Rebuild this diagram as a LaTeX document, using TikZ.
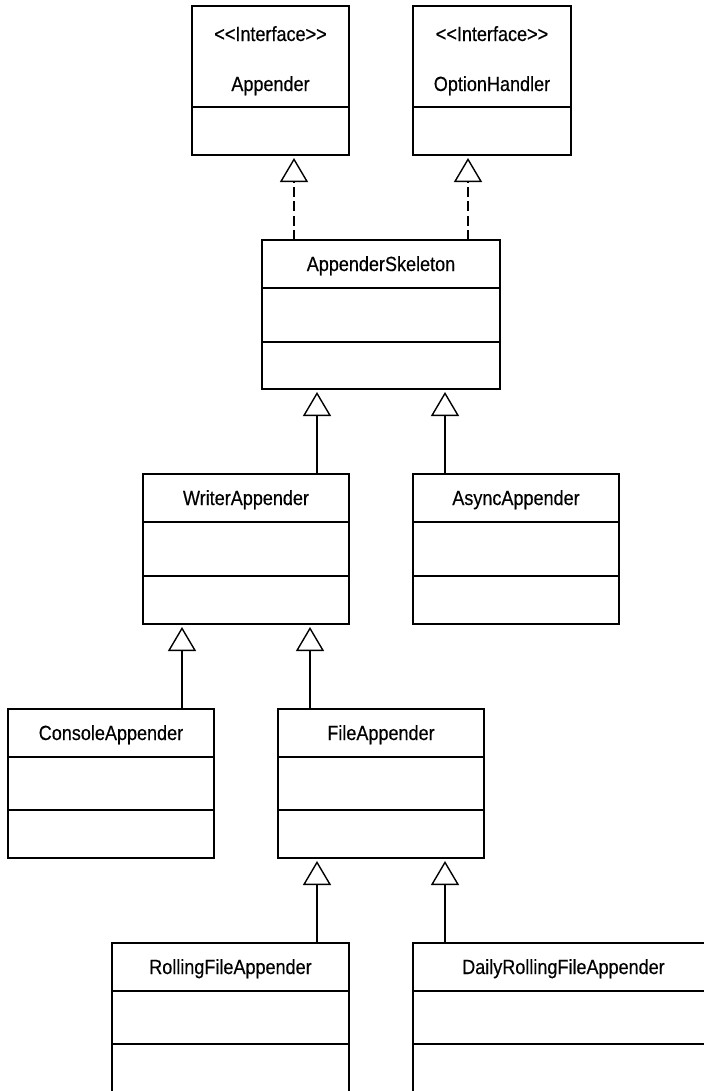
\documentclass[tikz,border=0pt]{standalone}
\usepackage{fontspec}
\newfontfamily\umlfont{Liberation Sans}[FakeStretch=0.88, FakeBold=0.4]
\usetikzlibrary{arrows.meta}

\tikzset{
  classbox/.style={draw, line width=1.8bp, rectangle, inner sep=0pt, outer sep=0pt, anchor=north west},
  divider/.style={line width=1.5bp},
  classname/.style={font=\umlfont\fontsize{20.5bp}{24bp}\selectfont, anchor=base, inner sep=0pt},
  inherits/.style={line width=1.4bp, -{Triangle[open, length=24bp, width=28bp]}, shorten >=3bp},
  realizes/.style={inherits, dash pattern=on 10bp off 4.5bp},
}

% class box: name, top-left x, top-left y, width, height, first divider, second divider
\newcommand\umlclass[7]{%
  \node[classbox, minimum width=#4bp, minimum height=#5bp] (#1) at (#2,#3) {};
  \draw[divider] ([yshift=-#6bp]#1.north west) -- ([yshift=-#6bp]#1.north east);
  \ifx\relax#7\relax\else
  \draw[divider] ([yshift=-#7bp]#1.north west) -- ([yshift=-#7bp]#1.north east);
  \fi
}

\begin{document}
\begin{tikzpicture}[x=1bp, y=-1bp]
\useasboundingbox (0,0) rectangle (704,1091);
\clip (0,0) rectangle (704,1091);

% interfaces
\umlclass{app}{192}{6}{157}{149}{101}{}
\umlclass{opt}{413}{6}{158}{149}{101}{}
\node[classname] (app-st) at ([yshift=-35bp]app.north) {<\kern0pt<Interface>\kern0pt>};
\node[classname] (app-nm) at ([yshift=-85bp]app.north) {Appender};
\node[classname] (opt-st) at ([yshift=-35bp]opt.north) {<\kern0pt<Interface>\kern0pt>};
\node[classname] (opt-nm) at ([yshift=-85bp]opt.north) {OptionHandler};

% classes
\umlclass{skel}{262}{240}{238}{149}{48}{102}
\umlclass{writer}{143}{474}{206}{150}{48}{102}
\umlclass{async}{413}{474}{206}{150}{48}{102}
\umlclass{console}{8}{709}{206}{149}{48}{101}
\umlclass{file}{278}{709}{206}{149}{48}{101}
\umlclass{rolling}{112}{943}{237}{152}{48}{101}
\umlclass{daily}{413}{943}{301}{152}{48}{101}

\node[classname] (skel-nm) at ([yshift=-31bp]skel.north) {AppenderSkeleton};
\node[classname] (writer-nm) at ([yshift=-31bp]writer.north) {WriterAppender};
\node[classname] (async-nm) at ([yshift=-31bp]async.north) {AsyncAppender};
\node[classname] (console-nm) at ([yshift=-31bp]console.north) {ConsoleAppender};
\node[classname] (file-nm) at ([yshift=-31bp]file.north) {FileAppender};
\node[classname] (rolling-nm) at ([yshift=-31bp]rolling.north) {RollingFileAppender};
\node[classname] (daily-nm) at ([yshift=-31bp]daily.north) {DailyRollingFileAppender};

% connector columns
\coordinate (k1) at (294,0);
\coordinate (k2) at (468,0);
\coordinate (k3) at (317,0);
\coordinate (k4) at (445,0);
\coordinate (k5) at (182,0);
\coordinate (k6) at (310,0);

% realization
\draw[realizes] (skel.north -| k1) -- (app.south -| k1);
\draw[realizes] (skel.north -| k2) -- (opt.south -| k2);

% generalization
\draw[inherits] (writer.north -| k3) -- (skel.south -| k3);
\draw[inherits] (async.north -| k4) -- (skel.south -| k4);
\draw[inherits] (console.north -| k5) -- (writer.south -| k5);
\draw[inherits] (file.north -| k6) -- (writer.south -| k6);
\draw[inherits] (rolling.north -| k3) -- (file.south -| k3);
\draw[inherits] (daily.north -| k4) -- (file.south -| k4);
\end{tikzpicture}
\end{document}
